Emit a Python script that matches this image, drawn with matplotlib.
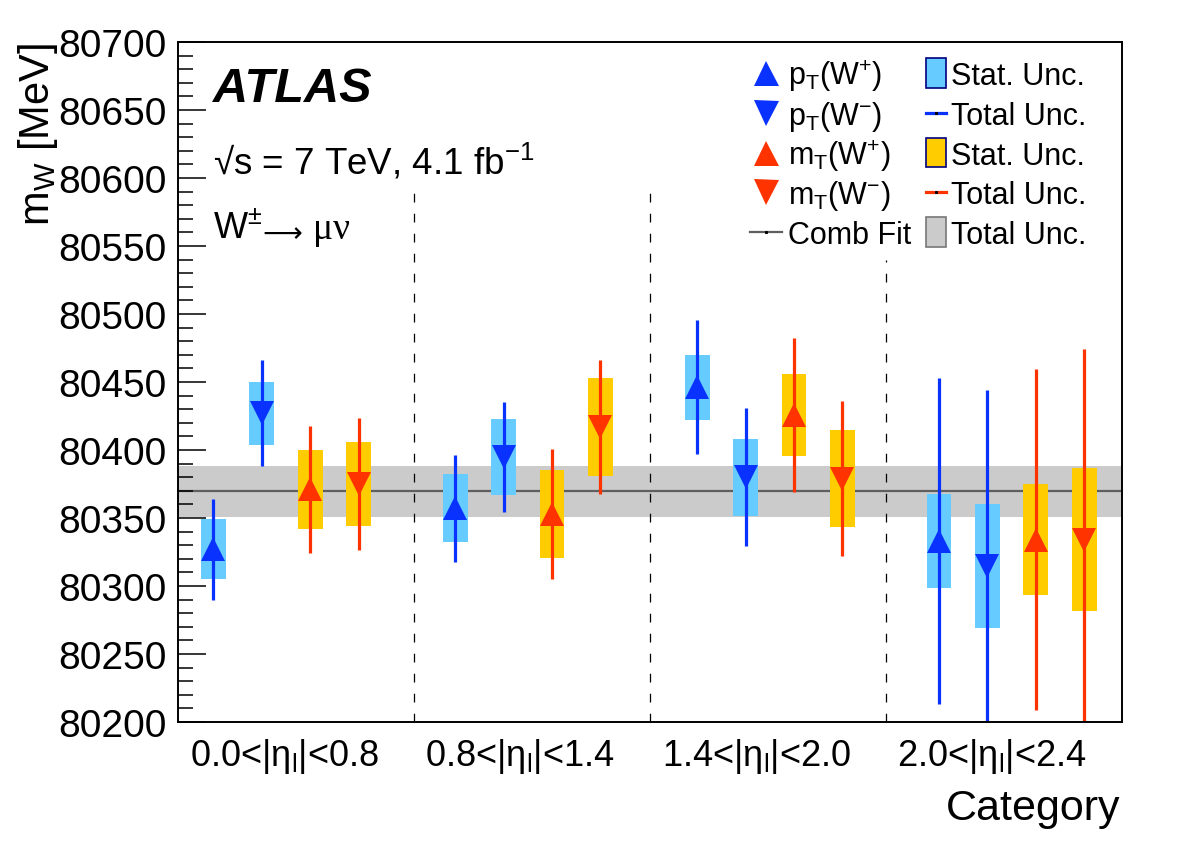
import matplotlib
matplotlib.use("Agg")
import matplotlib.pyplot as plt
from matplotlib.patches import Rectangle
from matplotlib.ticker import MultipleLocator, FormatStrFormatter

plt.rcParams['font.family'] = ['Liberation Sans', 'DejaVu Sans']
plt.rcParams['mathtext.fontset'] = 'custom'
plt.rcParams['mathtext.rm'] = 'Liberation Sans'
plt.rcParams['mathtext.it'] = 'Liberation Sans:italic'
plt.rcParams['mathtext.bf'] = 'Liberation Sans:bold'

# data (MeV), one value per eta category
categories = ['0.0<|η$_{\\rm l}$|<0.8', '0.8<|η$_{\\rm l}$|<1.4',
              '1.4<|η$_{\\rm l}$|<2.0', '2.0<|η$_{\\rm l}$|<2.4']

ptwp_val = [80327, 80357, 80446, 80333]
ptwp_stat = [22.0, 25.0, 24.0, 34.6]
ptwp_tot = [37.0, 39.5, 49.3, 120.0]

ptwm_val = [80427, 80395, 80380, 80315]
ptwm_stat = [23.3, 27.8, 28.3, 45.6]
ptwm_tot = [39.0, 40.4, 50.9, 129.4]

mtwp_val = [80371, 80353, 80426, 80334]
mtwp_stat = [29.2, 32.2, 30.1, 40.9]
mtwp_tot = [46.9, 47.7, 56.7, 125.5]

mtwm_val = [80375, 80417, 80379, 80334]
mtwm_stat = [30.6, 36.3, 35.7, 52.6]
mtwm_tot = [48.4, 49.5, 56.7, 140.0]

comb_val = 80369.5
comb_unc = 19.0

# colours
blue = '#0a32ff'
lblue = '#66ccff'
red = '#ff3300'
yellow = '#ffcc00'

fig = plt.figure(figsize=(11.82, 8.53), dpi=100)
ax = fig.add_axes([178/1182, 130/853, 944/1182, 680/853])

ax.set_xlim(0, 4)
ax.set_ylim(80200, 80700)

# combined fit band
ax.axhspan(comb_val - comb_unc, comb_val + comb_unc, color='#cbcbcb', lw=0, zorder=1)
ax.axhline(comb_val, color='#5f5f5f', lw=1.6, zorder=1.5)

# category separators
sep_top = [80589, 80589, 80540]
for i, top in enumerate(sep_top):
    ax.plot([i + 1, i + 1], [80200, top], color='black', lw=0.9,
            linestyle=(0, (7, 9)), zorder=2)

series = [
    (ptwp_val, ptwp_stat, ptwp_tot, '^', blue, lblue),
    (ptwm_val, ptwm_stat, ptwm_tot, 'v', blue, lblue),
    (mtwp_val, mtwp_stat, mtwp_tot, '^', red, yellow),
    (mtwm_val, mtwm_stat, mtwm_tot, 'v', red, yellow),
]

box_w = 0.105
for j, (val, stat, tot, mk, col, fill) in enumerate(series):
    for c in range(4):
        x = 0.15 + 0.205 * (5 * c + j)
        ax.add_patch(Rectangle((x - box_w / 2, val[c] - stat[c]), box_w, 2 * stat[c],
                               facecolor=fill, edgecolor='none', zorder=3))
        ax.plot([x, x], [val[c] - tot[c], val[c] + tot[c]], color=col, lw=2.3,
                solid_capstyle='butt', zorder=4)
        ax.plot([x], [val[c]], marker=mk, color=col, markersize=17.5,
                markeredgewidth=0, linestyle='none', zorder=5)

# axes styling
for s in ax.spines.values():
    s.set_linewidth(1.4)
    s.set_zorder(10)
ax.yaxis.set_major_locator(MultipleLocator(50))
ax.yaxis.set_minor_locator(MultipleLocator(10))
ax.yaxis.set_major_formatter(FormatStrFormatter('%d'))
ax.tick_params(axis='y', which='major', direction='in', length=20, width=1.1,
               labelsize=28, pad=8)
ax.tick_params(axis='y', which='minor', direction='in', length=10.5, width=1.1)
ax.set_xticks([i + 0.45 for i in range(4)])
ax.set_xticklabels(categories)
ax.tick_params(axis='x', which='both', length=0, labelsize=26, pad=10)

fig.text(49/1182, 1 - 43/853, 'm$_{\\rm W}$ [MeV]', rotation=90, rotation_mode='anchor',
         ha='right', va='baseline', fontsize=30)
fig.text(1120/1182, 1 - 820/853, 'Category', ha='right', va='baseline', fontsize=31)

# annotations
ax.text(0.037, 0.913, 'ATLAS', transform=ax.transAxes, fontsize=35,
        fontweight='bold', style='italic', va='baseline')
ax.text(0.037, 0.806, '√s = 7 TeV, 4.1 fb$^{-1}$', transform=ax.transAxes,
        fontsize=26.5, va='baseline')
ax.text(0.037, 0.712, 'W$^{\\pm}$', transform=ax.transAxes,
        fontsize=26, va='baseline')
ax.text(0.089, 0.708, '⟶', transform=ax.transAxes, family='DejaVu Sans',
        fontsize=20, va='baseline')
ax.text(0.143, 0.712, 'μν', transform=ax.transAxes, family='Liberation Serif',
        fontsize=27, va='baseline')

# legend, drawn by hand in axes coordinates
rows = [0.9544, 0.8956, 0.8375, 0.7794, 0.7206]
tkw = dict(transform=ax.transAxes, fontsize=22, va='baseline', zorder=12)
col1 = [('^', blue, 'p$_{\\rm T}$(W$^{+}$)'), ('v', blue, 'p$_{\\rm T}$(W$^{-}$)'),
        ('^', red, 'm$_{\\rm T}$(W$^{+}$)'), ('v', red, 'm$_{\\rm T}$(W$^{-}$)')]
for r, (mk, col, lab) in zip(rows, col1):
    ax.plot([0.6229], [r], marker=mk, color=col, markersize=18, markeredgewidth=0,
            transform=ax.transAxes, clip_on=False, zorder=12)
    ax.text(0.6462, r - 0.0162, lab, **tkw)
ax.plot([0.606, 0.640], [rows[4], rows[4]], color='#5f5f5f', lw=1.6,
        transform=ax.transAxes, zorder=12)
ax.plot([0.623], [rows[4]], marker='s', color='black', markersize=1.2,
        transform=ax.transAxes, zorder=13)
ax.text(0.6462, rows[4] - 0.0162, 'Comb Fit', **tkw)

col2 = [('box', lblue, '#000080'), ('line', blue, None), ('box', yellow, '#000080'),
        ('line', red, None), ('box', '#cbcbcb', '#777777')]
labs2 = ['Stat. Unc.', 'Total Unc.', 'Stat. Unc.', 'Total Unc.', 'Total Unc.']
for r, (kind, col, ec), lab in zip(rows, col2, labs2):
    if kind == 'box':
        ax.add_patch(Rectangle((0.7924, r - 0.022), 0.0212, 0.044, facecolor=col,
                               edgecolor=ec, lw=1.2, transform=ax.transAxes, zorder=12))
    else:
        ax.plot([0.7924, 0.8136], [r, r], color=col, lw=2.3,
                transform=ax.transAxes, zorder=12)
        ax.plot([0.803], [r], marker='s', color='black', markersize=1.2,
                transform=ax.transAxes, zorder=13)
    ax.text(0.8189, r - 0.0162, lab, **tkw)

fig.savefig('out.png', dpi=100)
